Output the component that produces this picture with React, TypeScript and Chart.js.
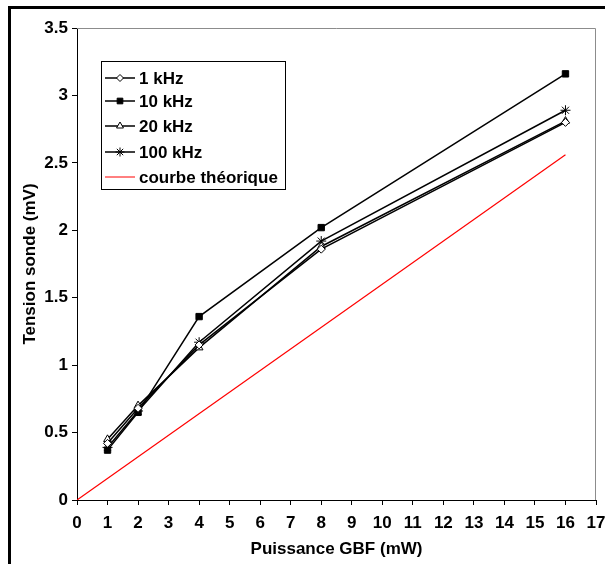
import React, { useEffect, useRef } from "react";
import { Chart, registerables } from "chart.js";
import { drawPoint } from "chart.js/helpers";

Chart.register(...registerables);

const xValues = [1, 2, 4, 8, 16];
const s1k = [0.42, 0.68, 1.15, 1.86, 2.8];
const s10k = [0.37, 0.65, 1.36, 2.02, 3.16];
const s20k = [0.45, 0.7, 1.13, 1.88, 2.81];
const s100k = [0.39, 0.66, 1.17, 1.92, 2.89];
const theoX = [0, 16];
const theoY = [0, 2.56];

const seriesLabels = ["1 kHz", "10 kHz", "20 kHz", "100 kHz", "courbe théorique"];
const xTitle = "Puissance GBF (mW)";
const yTitle = "Tension sonde (mV)";

const FONT = "'Liberation Sans', Arial, Helvetica, sans-serif";

const toPts = (xs: number[], ys: number[]) => xs.map((x, i) => ({ x, y: ys[i] }));

const styles = [
  { pointStyle: "rectRot", radius: 4, bg: "#ffffff", border: "#000000" },
  { pointStyle: "rect", radius: 4.5, bg: "#000000", border: "#000000" },
  { pointStyle: "triangle", radius: 4.5, bg: "#ffffff", border: "#000000" },
  { pointStyle: "star", radius: 5, bg: "#000000", border: "#000000" },
];

const framePlugin = {
  id: "frame",
  afterDraw(chart: any) {
    const { ctx, chartArea } = chart;
    const { left, right, top, bottom } = chartArea;
    ctx.save();
    // outer frame
    ctx.fillStyle = "#000000";
    ctx.fillRect(8, 6, 605, 3);
    ctx.fillRect(8, 6, 3, 564);
    // plot area top/right border
    ctx.strokeStyle = "#8c8c8c";
    ctx.lineWidth = 1;
    ctx.beginPath();
    ctx.moveTo(left, top + 0.5);
    ctx.lineTo(right - 0.5, top + 0.5);
    ctx.lineTo(right - 0.5, bottom);
    ctx.stroke();

    // legend
    const bx = left + 24;
    const by = top + 33;
    const bw = 184;
    const bh = 128;
    ctx.fillStyle = "#ffffff";
    ctx.fillRect(bx, by, bw, bh);
    ctx.strokeStyle = "#000000";
    ctx.lineWidth = 1;
    ctx.strokeRect(bx + 0.5, by + 0.5, bw, bh);
    const rowYs = [17, 40, 65, 91, 116];
    ctx.font = `bold 17px ${FONT}`;
    ctx.textBaseline = "middle";
    ctx.textAlign = "left";
    seriesLabels.forEach((lab, i) => {
      const y = by + rowYs[i];
      const isTheo = i === 4;
      ctx.strokeStyle = isTheo ? "#ff0000" : "#000000";
      ctx.lineWidth = isTheo ? 1 : 1.5;
      ctx.beginPath();
      ctx.moveTo(bx + 4, y);
      ctx.lineTo(bx + 34, y);
      ctx.stroke();
      if (!isTheo) {
        const st = styles[i];
        ctx.fillStyle = st.bg;
        ctx.strokeStyle = st.border;
        ctx.lineWidth = 1;
        drawPoint(ctx, { pointStyle: st.pointStyle as any, radius: st.radius - 0.5, rotation: 0, borderWidth: 1 }, bx + 19, y);
      }
      ctx.fillStyle = "#000000";
      ctx.fillText(lab, bx + 38, y + 1);
    });
    ctx.restore();
  },
};

export default function App() {
  const ref = useRef<HTMLCanvasElement | null>(null);
  useEffect(() => {
    const canvas = ref.current;
    if (!canvas) return;
    const series = [s1k, s10k, s20k, s100k];
    const datasets: any[] = series.map((ys, i) => ({
      label: seriesLabels[i],
      data: toPts(xValues, ys),
      borderColor: "#000000",
      borderWidth: 1.5,
      backgroundColor: styles[i].bg,
      pointStyle: styles[i].pointStyle,
      pointRadius: styles[i].radius,
      pointBorderWidth: 1,
      pointBorderColor: "#000000",
      pointBackgroundColor: styles[i].bg,
      tension: 0,
      fill: false,
    }));
    datasets.push({
      label: seriesLabels[4],
      data: toPts(theoX, theoY),
      borderColor: "#ff0000",
      borderWidth: 1.2,
      pointRadius: 0,
      tension: 0,
      fill: false,
    });
    const tickFont = { family: FONT, size: 17, weight: "bold" as const };
    const chart = new Chart(canvas, {
      type: "line",
      data: { datasets },
      plugins: [framePlugin],
      options: {
        animation: false,
        responsive: false,
        devicePixelRatio: 1,
        layout: { padding: { top: 28, right: 9, left: 0, bottom: 0 } },
        plugins: { legend: { display: false }, tooltip: { enabled: false } },
        scales: {
          x: {
            type: "linear",
            min: 0,
            max: 17,
            ticks: { stepSize: 1, color: "#000000", font: tickFont, padding: 8, maxRotation: 0, autoSkip: false },
            grid: { drawOnChartArea: false, drawTicks: true, tickLength: 5, color: "#000000" },
            border: { color: "#000000", width: 1 },
            title: { display: true, text: xTitle, color: "#000000", font: tickFont, padding: { top: 0, bottom: 4 } },
            afterFit: (s: any) => {
              s.height = 64;
              s.paddingLeft = 0;
              s.paddingRight = 0;
            },
          },
          y: {
            type: "linear",
            min: 0,
            max: 3.5,
            ticks: {
              stepSize: 0.5,
              color: "#000000",
              font: tickFont,
              padding: 4,
              callback: (v: any) => String(Number(v)),
            },
            grid: { drawOnChartArea: false, drawTicks: true, tickLength: 5, color: "#000000" },
            border: { color: "#000000", width: 1 },
            title: { display: true, text: yTitle, color: "#000000", font: tickFont, padding: { top: 20, bottom: 0 } },
            afterFit: (s: any) => {
              s.width = 77;
              s.paddingTop = 0;
              s.paddingBottom = 0;
            },
          },
        },
      },
    });
    return () => chart.destroy();
  }, []);
  return (
    <div style={{ position: "fixed", left: 0, top: 0, width: 605, height: 564, background: "#ffffff" }}>
      <canvas ref={ref} width={605} height={564} style={{ display: "block" }} />
    </div>
  );
}
